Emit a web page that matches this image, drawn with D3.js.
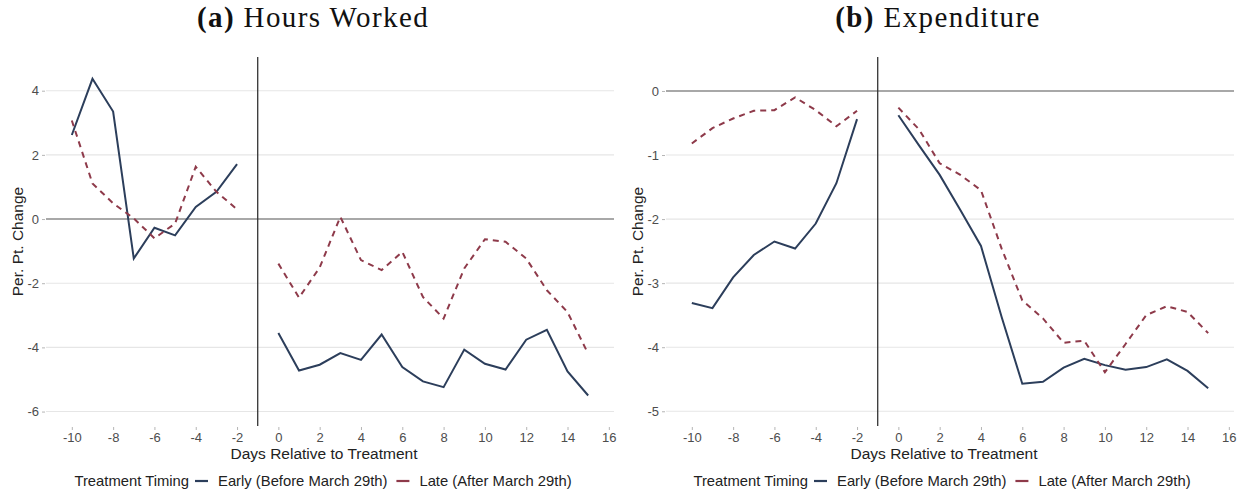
<!DOCTYPE html>
<html>
<head>
<meta charset="utf-8">
<script src="https://cdn.jsdelivr.net/npm/d3@7"></script>
<style>
    body { margin: 0; background: #fff; }
    svg { display: block; }
    .tick text { font-family: "Liberation Sans", Arial, sans-serif; font-size: 13px; fill: #4d4d4d; }
</style>
</head>
<body>
<script>
// days relative to treatment (-1 is the reference day, no estimate)
const days = d3.range(-10, 16);

// (a) hours worked
const hoursEarly = [2.62, 4.37, 3.35, -1.23, -0.27, -0.51, 0.38, 0.85, 1.71, null,
    -3.55, -4.72, -4.54, -4.18, -4.39, -3.60, -4.61, -5.06, -5.24, -4.07, -4.51, -4.69, -3.76, -3.45, -4.75, -5.50];
const hoursLate = [3.07, 1.11, 0.49, 0.02, -0.60, -0.14, 1.63, 0.85, 0.30, null,
    -1.39, -2.45, -1.51, 0.07, -1.28, -1.59, -1.02, -2.43, -3.10, -1.54, -0.63, -0.71, -1.23, -2.22, -2.90, -4.20];

// (b) expenditure
const expEarly = [-3.31, -3.39, -2.91, -2.56, -2.35, -2.46, -2.07, -1.44, -0.44, null,
    -0.38, -0.85, -1.31, -1.86, -2.42, -3.53, -4.57, -4.54, -4.32, -4.18, -4.28, -4.35, -4.31, -4.19, -4.37, -4.64];
const expLate = [-0.82, -0.58, -0.43, -0.31, -0.30, -0.10, -0.30, -0.55, -0.31, null,
    -0.26, -0.60, -1.13, -1.31, -1.55, -2.46, -3.27, -3.55, -3.93, -3.90, -4.39, -3.95, -3.50, -3.36, -3.45, -3.78];

const xTicks = d3.range(-10, 17, 2);
const hoursTicks = [-6, -4, -2, 0, 2, 4];
const expTicks = [-5, -4, -3, -2, -1, 0];

const seriesNames = ["Early (Before March 29th)", "Late (After March 29th)"];
const colors = ["#2c3e5b", "#8e3a4a"];
const legendTitle = "Treatment Timing";

const width = 1250, height = 495;
const sans = "'Liberation Sans', Arial, sans-serif";

let svg = d3.select("body").append("svg")
    .attr("width", width)
    .attr("height", height);

svg.append("rect").attr("width", width).attr("height", height).attr("fill", "#fff");

function drawPanel(cfg) {
    const top = 57, bottom = 426;
    let x = d3.scaleLinear().domain([-11.25, 16.25]).range([cfg.left, cfg.right]);
    let y = d3.scaleLinear().domain(cfg.yDomain).range([bottom, top]);

    let g = svg.append("g");

    // horizontal grid lines
    g.append("g").selectAll("line")
        .data(cfg.yTicks)
        .join("line")
        .attr("x1", cfg.left).attr("x2", cfg.right)
        .attr("y1", d => y(d)).attr("y2", d => y(d))
        .attr("stroke", "#e6e6e6")
        .attr("stroke-width", 1.1);

    // zero line and treatment line
    g.append("line")
        .attr("x1", cfg.left).attr("x2", cfg.right)
        .attr("y1", y(0)).attr("y2", y(0))
        .attr("stroke", "#8f8f8f")
        .attr("stroke-width", 1.6);
    g.append("line")
        .attr("x1", x(-1)).attr("x2", x(-1))
        .attr("y1", top).attr("y2", bottom)
        .attr("stroke", "#333")
        .attr("stroke-width", 1.3);

    // axes
    let xAxis = g.append("g")
        .attr("transform", "translate(0," + (bottom + 1) + ")")
        .call(d3.axisBottom(x).tickValues(xTicks).tickSize(3).tickPadding(3).tickFormat(d => String(d)));
    let yAxis = g.append("g")
        .attr("transform", "translate(" + (cfg.left - 1) + ",0)")
        .call(d3.axisLeft(y).tickValues(cfg.yTicks).tickSize(3).tickPadding(3).tickFormat(d => String(d)));
    [xAxis, yAxis].forEach(a => {
        a.select(".domain").remove();
        a.selectAll(".tick line").attr("stroke", "#b5b5b5");
    });

    // the two series
    let line = d3.line()
        .defined(d => d[1] !== null)
        .x(d => x(d[0]))
        .y(d => y(d[1]));

    cfg.series.forEach((vals, i) => {
        g.append("path")
            .datum(days.map((d, j) => [d, vals[j]]))
            .attr("fill", "none")
            .attr("stroke", colors[i])
            .attr("stroke-width", 2)
            .attr("stroke-dasharray", i === 1 ? "6,5" : null)
            .attr("d", line);
    });

    // axis titles
    g.append("text")
        .attr("x", (cfg.left + cfg.right) / 2 - 6)
        .attr("y", 459)
        .attr("text-anchor", "middle")
        .attr("font-family", sans)
        .attr("font-size", 15.5)
        .attr("fill", "#222")
        .text("Days Relative to Treatment");
    g.append("text")
        .attr("transform", "translate(" + (cfg.left - 23) + "," + ((top + bottom) / 2) + ") rotate(-90)")
        .attr("text-anchor", "middle")
        .attr("font-family", sans)
        .attr("font-size", 15.5)
        .attr("fill", "#222")
        .text("Per. Pt. Change");

    // title
    let title = g.append("text")
        .attr("x", cfg.titleX)
        .attr("y", 27)
        .attr("text-anchor", "middle")
        .attr("font-family", "'Liberation Serif', 'DejaVu Serif', serif")
        .attr("font-size", 29)
        .attr("letter-spacing", 1.4)
        .attr("fill", "#111");
    title.append("tspan").attr("font-weight", "bold").text(cfg.tag);
    title.append("tspan").text(" " + cfg.title);

    // legend, laid out left to right then centred
    let leg = g.append("g");
    let cx = 0;
    const fs = 14.8, base = 486;
    let t = leg.append("text").attr("x", cx).attr("y", base)
        .attr("font-family", sans).attr("font-size", fs).attr("fill", "#222")
        .text(legendTitle);
    cx += t.node().getComputedTextLength() + 6;
    seriesNames.forEach((name, i) => {
        leg.append("line")
            .attr("x1", cx).attr("x2", cx + 13)
            .attr("y1", base - 5).attr("y2", base - 5)
            .attr("stroke", colors[i]).attr("stroke-width", 2.2);
        cx += 23;
        let lt = leg.append("text").attr("x", cx).attr("y", base)
            .attr("font-family", sans).attr("font-size", fs).attr("fill", "#222")
            .text(name);
        cx += lt.node().getComputedTextLength() + 9;
    });
    cx -= 9;
    leg.attr("transform", "translate(" + (cfg.legendX - cx / 2) + ",0)");
}

drawPanel({
    left: 46, right: 614,
    yDomain: [-6.45, 5.05],
    yTicks: hoursTicks,
    series: [hoursEarly, hoursLate],
    tag: "(a)", title: "Hours Worked",
    titleX: 313, legendX: 323
});

drawPanel({
    left: 666, right: 1234,
    yDomain: [-5.23, 0.53],
    yTicks: expTicks,
    series: [expEarly, expLate],
    tag: "(b)", title: "Expenditure",
    titleX: 938, legendX: 942
});
</script>
</body>
</html>
